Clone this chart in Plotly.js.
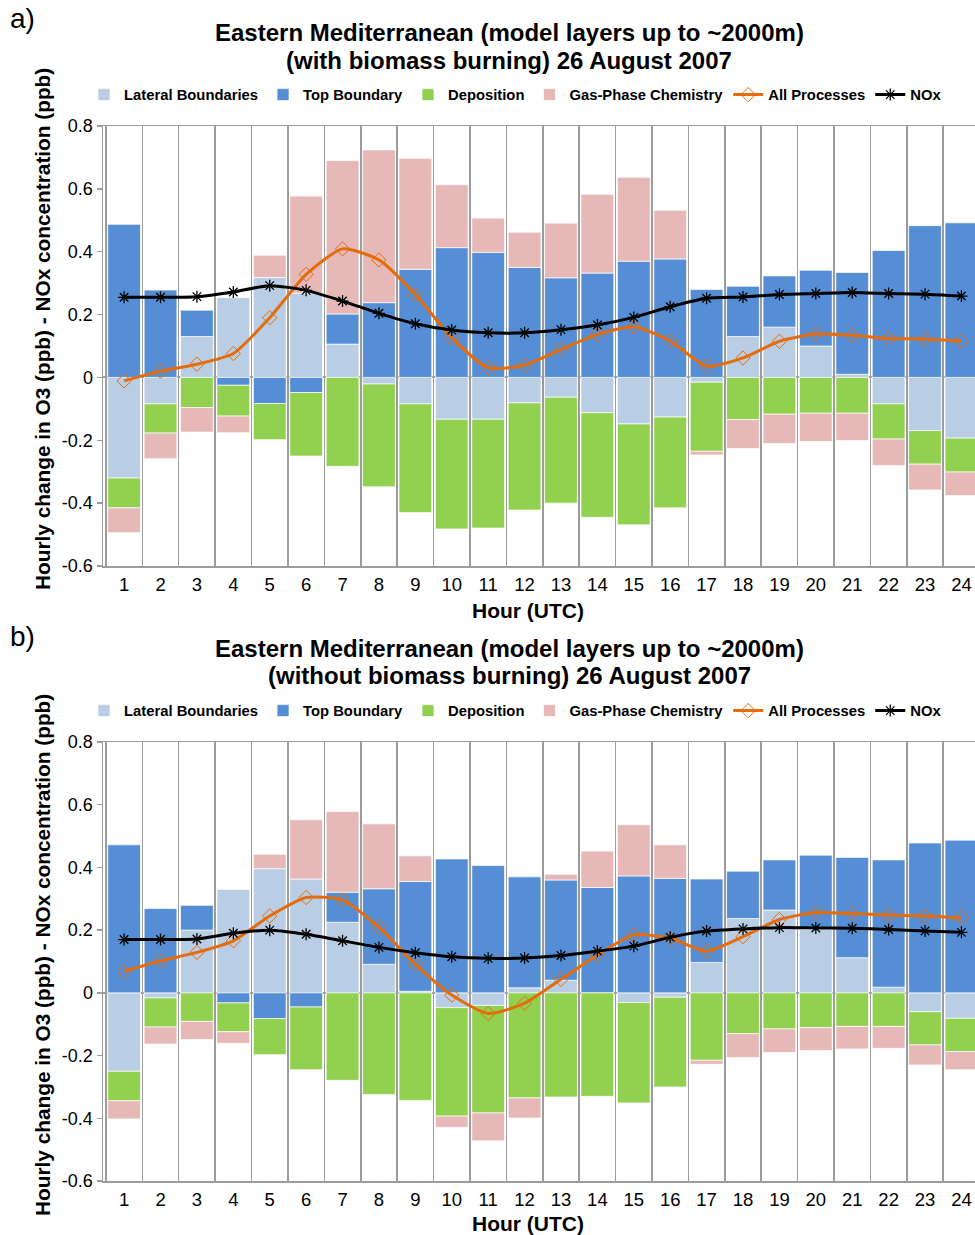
<!DOCTYPE html>
<html>
<head>
<meta charset="utf-8">
<script src="https://cdn.plot.ly/plotly-3.0.1.min.js"></script>
<style>
html,body{margin:0;padding:0;overflow:hidden;background:#fff;width:975px;height:1235px;}
#chartA{position:absolute;left:0;top:0;width:985px;height:640px;}
#chartB{position:absolute;left:0;top:618px;width:985px;height:617px;}
</style>
</head>
<body>
<div id="chartA"></div>
<div id="chartB"></div>
<script>
// ---- data ----
var hours = [1,2,3,4,5,6,7,8,9,10,11,12,13,14,15,16,17,18,19,20,21,22,23,24];
var hourLabels = ["1","2","3","4","5","6","7","8","9","10","11","12","13","14","15","16","17","18","19","20","21","22","23","24"];
var yTickVals = [-0.6,-0.4,-0.2,0,0.2,0.4,0.6,0.8];
var yTickText = ["-0.6","-0.4","-0.2","0","0.2","0.4","0.6","0.8"];

// a) with biomass burning
var latA  = [-0.320,-0.084,0.130,0.254,0.318,0.268,0.106,-0.021,-0.084,-0.133,-0.133,-0.081,-0.063,-0.112,-0.148,-0.126,-0.015,0.130,0.160,0.100,0.010,-0.084,-0.169,-0.193];
var topA  = [0.487,0.278,0.084,-0.025,-0.083,-0.048,0.096,0.238,0.344,0.413,0.398,0.350,0.317,0.332,0.370,0.377,0.280,0.160,0.163,0.241,0.324,0.404,0.483,0.492];
var depA  = [-0.095,-0.093,-0.096,-0.098,-0.115,-0.202,-0.283,-0.327,-0.346,-0.349,-0.346,-0.341,-0.337,-0.333,-0.321,-0.289,-0.220,-0.134,-0.117,-0.114,-0.114,-0.112,-0.107,-0.108];
var chemA = [-0.079,-0.082,-0.078,-0.053,0.071,0.309,0.488,0.486,0.353,0.200,0.109,0.112,0.174,0.251,0.267,0.155,-0.012,-0.092,-0.093,-0.090,-0.087,-0.084,-0.082,-0.075];
var allA  = [-0.011,0.020,0.042,0.076,0.190,0.328,0.409,0.374,0.264,0.126,0.031,0.039,0.089,0.137,0.161,0.116,0.036,0.062,0.115,0.138,0.134,0.124,0.122,0.115];
var noxA  = [0.255,0.255,0.257,0.272,0.292,0.277,0.243,0.204,0.171,0.151,0.142,0.142,0.152,0.167,0.191,0.225,0.252,0.256,0.264,0.267,0.270,0.267,0.265,0.259];

// b) without biomass burning
var latB  = [-0.250,-0.016,0.200,0.330,0.396,0.363,0.225,0.091,0.005,-0.047,-0.040,0.016,0.040,0,-0.031,-0.014,0.097,0.237,0.264,0.202,0.112,0.018,-0.060,-0.081];
var topB  = [0.472,0.269,0.079,-0.032,-0.082,-0.045,0.096,0.241,0.350,0.427,0.406,0.354,0.320,0.336,0.373,0.365,0.266,0.151,0.160,0.237,0.320,0.406,0.478,0.487];
var depB  = [-0.094,-0.093,-0.091,-0.092,-0.115,-0.200,-0.279,-0.324,-0.343,-0.346,-0.343,-0.335,-0.332,-0.330,-0.320,-0.286,-0.215,-0.130,-0.115,-0.111,-0.107,-0.107,-0.106,-0.106];
var chemB = [-0.058,-0.054,-0.058,-0.037,0.046,0.189,0.257,0.207,0.082,-0.036,-0.089,-0.064,0.018,0.116,0.163,0.107,-0.013,-0.076,-0.075,-0.073,-0.072,-0.070,-0.064,-0.058];
var allB  = [0.069,0.102,0.129,0.166,0.245,0.304,0.296,0.209,0.091,-0.007,-0.066,-0.033,0.043,0.121,0.185,0.174,0.133,0.179,0.234,0.256,0.253,0.248,0.245,0.239];
var noxB  = [0.170,0.170,0.172,0.190,0.200,0.187,0.166,0.145,0.128,0.115,0.110,0.111,0.119,0.133,0.149,0.177,0.197,0.204,0.208,0.207,0.206,0.202,0.197,0.193];

var seriesNames = ["Lateral Boundaries","Top Boundary","Deposition","Gas-Phase Chemistry","All Processes","NOx"];
var titleLine1 = "Eastern Mediterranean (model layers up to ~2000m)";
var titleA2 = "(with biomass burning) 26 August 2007";
var titleB2 = "(without biomass burning) 26 August 2007";
var panelA = "a)", panelB = "b)";
var xTitle = "Hour (UTC)";
var yTitle = "Hourly change in O3 (ppb) - NOx concentration (ppb)";

// ---- styles ----
var FONT = "Liberation Sans, Arial, Helvetica, sans-serif";
var colLat = "#B9CDE5", colTop = "#558ED5", colDep = "#92D050", colChem = "#E6B9B8";
var colAll = "#E46C0A", colNox = "#000000";
var gridCol = "#9C9C9C";
var bounds = hours.map(function(h){return h - 0.5;}).concat([hours[hours.length-1] + 0.5]);

function barTrace(name, y, color) {
  return {type:"bar", name:name, x:hours, y:y,
          marker:{color:color, line:{color:"rgba(255,255,255,0.7)", width:1}}, hoverinfo:"skip"};
}
function allTrace(y) {
  return {type:"scatter", mode:"lines+markers", name:seriesNames[4], x:hours, y:y,
          line:{color:colAll, width:3, shape:"spline", smoothing:0.6},
          marker:{symbol:"diamond-open", size:11, color:colAll, line:{width:1, color:colAll}}, hoverinfo:"skip"};
}
function noxTrace(y) {
  return {type:"scatter", mode:"lines+markers", name:seriesNames[5], x:hours, y:y,
          line:{color:colNox, width:3, shape:"spline", smoothing:0.6},
          marker:{symbol:"asterisk-open", size:10, color:colNox, line:{width:1.3, color:colNox}}, hoverinfo:"skip"};
}
function traces(lat, top, dep, chem, all, nox) {
  return [barTrace(seriesNames[0], lat, colLat), barTrace(seriesNames[1], top, colTop),
          barTrace(seriesNames[2], dep, colDep), barTrace(seriesNames[3], chem, colChem),
          allTrace(all), noxTrace(nox)];
}

function makeLayout(h, mt, mb, line2, panel, py) {
  var ph = h - mt - mb;
  function pY(v){ return (h - mb - v) / ph; }   // pixel (from top of this div) -> paper y
  function pX(v){ return (v - 103) / 877; }     // pixel -> paper x
  return {
    width:985, height:h,
    margin:{l:103, r:5, t:mt, b:mb},
    paper_bgcolor:"rgba(0,0,0,0)", plot_bgcolor:"#fff",
    barmode:"relative", bargap:0.1,
    font:{family:FONT, color:"#000"},
    showlegend:true,
    xaxis:{
      range:[0.42,24.51], type:"linear",
      tickmode:"array", tickvals:hours, ticktext:hourLabels,
      showgrid:false, zeroline:false,
      minor:{tickmode:"array", tickvals:bounds, showgrid:true, gridcolor:gridCol, gridwidth:1.5, ticks:""},
      showline:true, linecolor:gridCol, linewidth:1.5, mirror:true,
      ticks:"", ticklabelstandoff:1,
      tickfont:{family:FONT, size:18.5, color:"#000"},
      fixedrange:true
    },
    yaxis:{
      range:[-0.6,0.8],
      tickmode:"array", tickvals:yTickVals, ticktext:yTickText,
      showgrid:false, zeroline:true, zerolinecolor:gridCol, zerolinewidth:2,
      showline:true, linecolor:gridCol, linewidth:1.5,
      ticks:"outside", ticklen:5, tickcolor:gridCol, tickwidth:1.5,
      tickfont:{family:FONT, size:18, color:"#000"},
      fixedrange:true
    },
    legend:{orientation:"h", x:pX(84), xanchor:"left", y:pY(py.legend), yanchor:"middle",
            traceorder:"normal", itemwidth:30, bgcolor:"rgba(0,0,0,0)",
            font:{family:FONT, size:14.8, color:"#000", weight:"bold"}},
    annotations:[
      {text:titleLine1, xref:"paper", yref:"paper", x:pX(509), y:pY(py.t1), xanchor:"center", yanchor:"middle", showarrow:false,
       font:{family:FONT, size:24, color:"#000", weight:"bold"}},
      {text:line2, xref:"paper", yref:"paper", x:pX(509), y:pY(py.t2), xanchor:"center", yanchor:"middle", showarrow:false,
       font:{family:FONT, size:24, color:"#000", weight:"bold"}},
      {text:panel, xref:"paper", yref:"paper", x:pX(22), y:pY(py.panel), xanchor:"center", yanchor:"middle", showarrow:false,
       font:{family:FONT, size:28, color:"#000"}},
      {text:yTitle, xref:"paper", yref:"paper", x:pX(42), y:pY(py.ytitle), xanchor:"center", yanchor:"middle", showarrow:false,
       textangle:-90, font:{family:FONT, size:20.8, color:"#000", weight:"bold"}},
      {text:xTitle, xref:"paper", yref:"paper", x:pX(528), y:pY(py.xtitle), xanchor:"center", yanchor:"middle", showarrow:false,
       font:{family:FONT, size:21, color:"#000", weight:"bold"}}
    ]
  };
}

var cfg = {staticPlot:true, displayModeBar:false};
Plotly.newPlot("chartA", traces(latA, topA, depA, chemA, allA, noxA),
  makeLayout(640, 126, 74, titleA2, panelA, {legend:95, t1:33, t2:60, panel:18, ytitle:329, xtitle:610}), cfg);
Plotly.newPlot("chartB", traces(latB, topB, depB, chemB, allB, noxB),
  makeLayout(617, 124, 54, titleB2, panelB, {legend:93, t1:30, t2:58, panel:18, ytitle:337, xtitle:605}), cfg);
</script>
</body>
</html>
